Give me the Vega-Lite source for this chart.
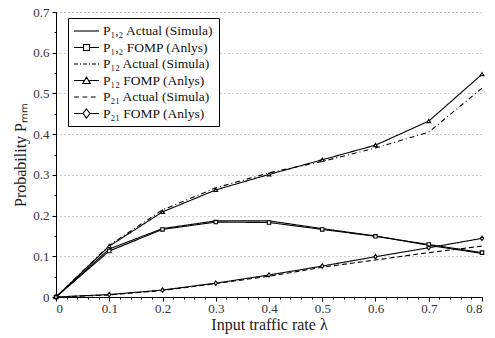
{
  "$schema": "https://vega.github.io/schema/vega-lite/v6.json",
  "width": 426,
  "height": 285,
  "autosize": {"type": "none"},
  "padding": {"left": 56, "top": 12, "right": 13, "bottom": 41},
  "background": "white",
  "config": {
    "font": "Liberation Serif",
    "view": {"stroke": null},
    "axis": {
      "labelFont": "Liberation Serif",
      "labelFontSize": 13,
      "labelColor": "#333",
      "titleFont": "Liberation Serif",
      "titleFontSize": 16,
      "titleFontWeight": "normal",
      "titleColor": "#222",
      "domainColor": "black",
      "tickColor": "black",
      "tickSize": 4,
      "gridColor": "#999",
      "gridDash": [1, 3]
    },
    "legend": {
      "orient": "none",
      "legendX": 12,
      "legendY": 6,
      "strokeColor": "black",
      "fillColor": "white",
      "padding": 5,
      "labelFont": "Liberation Serif",
      "labelFontSize": 13.5,
      "labelColor": "#111",
      "symbolSize": 196,
      "symbolStrokeWidth": 1.1,
      "symbolStrokeColor": "black",
      "symbolFillColor": "transparent",
      "labelOffset": 14,
      "rowPadding": 1.5
    }
  },
  "data": {
    "values": [
      {"s": "P₁,₂ Actual (Simula)", "x": 0, "y": 0},
      {"s": "P₁,₂ Actual (Simula)", "x": 0.1, "y": 0.118},
      {"s": "P₁,₂ Actual (Simula)", "x": 0.2, "y": 0.168},
      {"s": "P₁,₂ Actual (Simula)", "x": 0.3, "y": 0.187},
      {"s": "P₁,₂ Actual (Simula)", "x": 0.4, "y": 0.187},
      {"s": "P₁,₂ Actual (Simula)", "x": 0.5, "y": 0.168},
      {"s": "P₁,₂ Actual (Simula)", "x": 0.6, "y": 0.15},
      {"s": "P₁,₂ Actual (Simula)", "x": 0.7, "y": 0.127},
      {"s": "P₁,₂ Actual (Simula)", "x": 0.8, "y": 0.107},
      {"s": "P₁,₂ FOMP (Anlys)", "x": 0, "y": 0},
      {"s": "P₁,₂ FOMP (Anlys)", "x": 0.1, "y": 0.113},
      {"s": "P₁,₂ FOMP (Anlys)", "x": 0.2, "y": 0.166},
      {"s": "P₁,₂ FOMP (Anlys)", "x": 0.3, "y": 0.184},
      {"s": "P₁,₂ FOMP (Anlys)", "x": 0.4, "y": 0.183},
      {"s": "P₁,₂ FOMP (Anlys)", "x": 0.5, "y": 0.166},
      {"s": "P₁,₂ FOMP (Anlys)", "x": 0.6, "y": 0.149},
      {"s": "P₁,₂ FOMP (Anlys)", "x": 0.7, "y": 0.129},
      {"s": "P₁,₂ FOMP (Anlys)", "x": 0.8, "y": 0.109},
      {"s": "P₁₂ Actual (Simula)", "x": 0, "y": 0},
      {"s": "P₁₂ Actual (Simula)", "x": 0.1, "y": 0.127},
      {"s": "P₁₂ Actual (Simula)", "x": 0.2, "y": 0.214},
      {"s": "P₁₂ Actual (Simula)", "x": 0.3, "y": 0.268},
      {"s": "P₁₂ Actual (Simula)", "x": 0.4, "y": 0.305},
      {"s": "P₁₂ Actual (Simula)", "x": 0.5, "y": 0.333},
      {"s": "P₁₂ Actual (Simula)", "x": 0.6, "y": 0.366},
      {"s": "P₁₂ Actual (Simula)", "x": 0.7, "y": 0.405},
      {"s": "P₁₂ Actual (Simula)", "x": 0.8, "y": 0.513},
      {"s": "P₁₂ FOMP (Anlys)", "x": 0, "y": 0},
      {"s": "P₁₂ FOMP (Anlys)", "x": 0.1, "y": 0.125},
      {"s": "P₁₂ FOMP (Anlys)", "x": 0.2, "y": 0.209},
      {"s": "P₁₂ FOMP (Anlys)", "x": 0.3, "y": 0.263},
      {"s": "P₁₂ FOMP (Anlys)", "x": 0.4, "y": 0.301},
      {"s": "P₁₂ FOMP (Anlys)", "x": 0.5, "y": 0.337},
      {"s": "P₁₂ FOMP (Anlys)", "x": 0.6, "y": 0.373},
      {"s": "P₁₂ FOMP (Anlys)", "x": 0.7, "y": 0.432},
      {"s": "P₁₂ FOMP (Anlys)", "x": 0.8, "y": 0.547},
      {"s": "P₂₁ Actual (Simula)", "x": 0, "y": 0},
      {"s": "P₂₁ Actual (Simula)", "x": 0.1, "y": 0.005},
      {"s": "P₂₁ Actual (Simula)", "x": 0.2, "y": 0.016},
      {"s": "P₂₁ Actual (Simula)", "x": 0.3, "y": 0.033},
      {"s": "P₂₁ Actual (Simula)", "x": 0.4, "y": 0.051},
      {"s": "P₂₁ Actual (Simula)", "x": 0.5, "y": 0.073},
      {"s": "P₂₁ Actual (Simula)", "x": 0.6, "y": 0.091},
      {"s": "P₂₁ Actual (Simula)", "x": 0.7, "y": 0.109},
      {"s": "P₂₁ Actual (Simula)", "x": 0.8, "y": 0.125},
      {"s": "P₂₁ FOMP (Anlys)", "x": 0, "y": 0},
      {"s": "P₂₁ FOMP (Anlys)", "x": 0.1, "y": 0.006},
      {"s": "P₂₁ FOMP (Anlys)", "x": 0.2, "y": 0.017},
      {"s": "P₂₁ FOMP (Anlys)", "x": 0.3, "y": 0.034},
      {"s": "P₂₁ FOMP (Anlys)", "x": 0.4, "y": 0.054},
      {"s": "P₂₁ FOMP (Anlys)", "x": 0.5, "y": 0.076},
      {"s": "P₂₁ FOMP (Anlys)", "x": 0.6, "y": 0.099},
      {"s": "P₂₁ FOMP (Anlys)", "x": 0.7, "y": 0.121},
      {"s": "P₂₁ FOMP (Anlys)", "x": 0.8, "y": 0.144}
    ]
  },
  "layer": [
    {
      "mark": {"type": "line", "color": "black", "strokeWidth": 1.1},
      "encoding": {
        "x": {"field": "x", "type": "quantitative", "scale": {"domain": [0, 0.8], "nice": false},
          "axis": {"values": [0, 0.1, 0.2, 0.3, 0.4, 0.5, 0.6, 0.7, 0.8], "format": "~g", "title": "Input traffic rate  λ", "grid": false, "labelPadding": 1, "titlePadding": 1}},
        "y": {"field": "y", "type": "quantitative", "scale": {"domain": [0, 0.7], "nice": false},
          "axis": {"values": [0, 0.1, 0.2, 0.3, 0.4, 0.5, 0.6, 0.7], "format": "~g", "title": "Probability Pₘₘ", "grid": true, "labelPadding": 3, "titlePadding": 4}},
        "strokeDash": {"field": "s", "type": "nominal",
          "scale": {"domain": ["P₁,₂ Actual (Simula)", "P₁,₂ FOMP (Anlys)", "P₁₂ Actual (Simula)", "P₁₂ FOMP (Anlys)", "P₂₁ Actual (Simula)", "P₂₁ FOMP (Anlys)"],
            "range": [[1, 0], [1, 0], [5, 3, 1, 3], [1, 0], [5, 3], [1, 0]]},
          "legend": null}
      }
    },
    {
      "transform": [{"filter": "indexof(datum.s, 'FOMP') >= 0"}],
      "mark": {"type": "point", "filled": true, "fill": "white", "stroke": "black", "strokeWidth": 1.1, "opacity": 1},
      "encoding": {
        "x": {"field": "x", "type": "quantitative", "axis": null},
        "y": {"field": "y", "type": "quantitative", "axis": null},
        "shape": {"field": "s", "type": "nominal",
          "scale": {"domain": ["P₁,₂ FOMP (Anlys)", "P₁₂ FOMP (Anlys)", "P₂₁ FOMP (Anlys)"],
            "range": ["M-1,-1H1V1H-1Z", "M0,-1L1.1,0.85H-1.1Z", "M0,-1.25L0.95,0L0,1.25L-0.95,0Z"]},
          "legend": null},
        "size": {"value": 12}
      }
    },
    {
      "mark": {"type": "point", "filled": false, "color": "black", "opacity": 0, "strokeWidth": 1.1},
      "encoding": {
        "x": {"field": "x", "type": "quantitative",
          "axis": {"orient": "bottom", "values": [0.02, 0.04, 0.06, 0.08, 0.12, 0.14, 0.16, 0.18, 0.22, 0.24, 0.26, 0.28, 0.32, 0.34, 0.36, 0.38, 0.42, 0.44, 0.46, 0.48, 0.52, 0.54, 0.56, 0.58, 0.62, 0.64, 0.66, 0.68, 0.72, 0.74, 0.76, 0.78], "labels": false, "title": null, "domain": false, "grid": false, "tickSize": 2}},
        "y": {"field": "y", "type": "quantitative",
          "axis": {"orient": "left", "values": [0.05, 0.15, 0.25, 0.35, 0.45, 0.55, 0.65], "labels": false, "title": null, "domain": false, "grid": false, "tickSize": 2}},
        "shape": {"field": "s", "type": "nominal",
          "scale": {"domain": ["P₁,₂ Actual (Simula)", "P₁,₂ FOMP (Anlys)", "P₁₂ Actual (Simula)", "P₁₂ FOMP (Anlys)", "P₂₁ Actual (Simula)", "P₂₁ FOMP (Anlys)"],
            "range": [
              "M-1,0H2.571",
              "M-1,0H0.357M1.214,0H2.571M0.357,-0.43H1.214V0.43H0.357Z",
              "M-1,0H-0.429M-0.143,0H0M0.286,0H0.857M1.143,0H1.286M1.571,0H2.143M2.429,0H2.571",
              "M-1,0H0.498M1.074,0H2.571M0.786,-0.5L1.322,0.43H0.25Z",
              "M-1,0H-0.3M0.2,0H0.9M1.4,0H2.1",
              "M-1,0H0.286M1.286,0H2.571M0.786,-0.643L1.286,0L0.786,0.643L0.286,0Z"
            ]},
          "legend": {"title": null, "encode": {"symbols": {"update": {"opacity": {"value": 1}, "strokeOpacity": {"value": 1}}}}}}
      }
    }
  ],
  "resolve": {"scale": {"shape": "independent"}, "axis": {"x": "independent", "y": "independent"}}
}
